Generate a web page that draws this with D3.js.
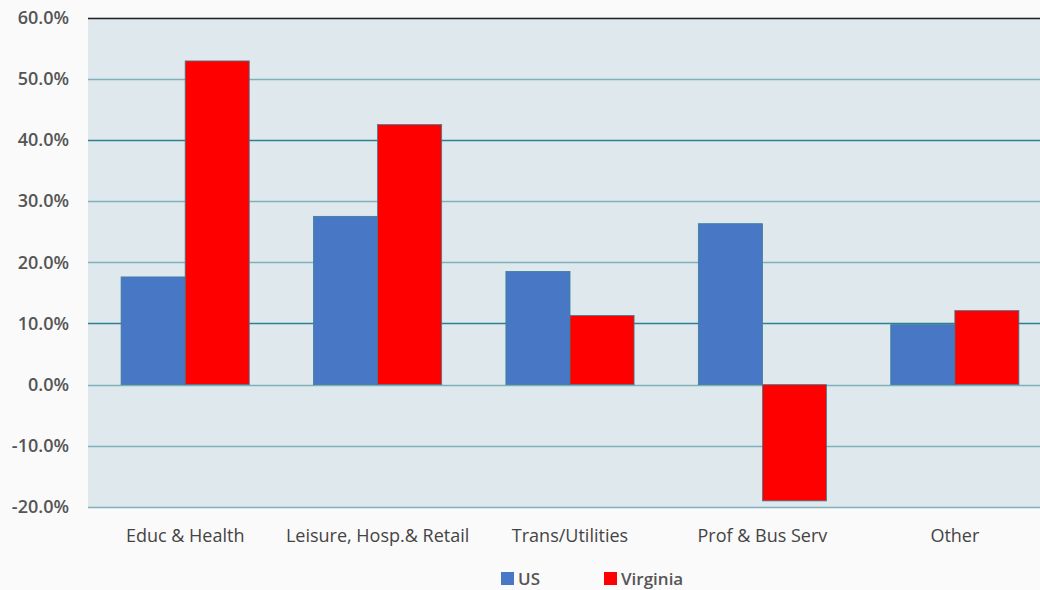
<!DOCTYPE html>
<html><head><meta charset="utf-8">
<script src="https://cdn.jsdelivr.net/npm/d3@7"></script>
<style>
html,body{margin:0;padding:0;background:#fafafa;}
svg{display:block;font-family:"Open Sans","DejaVu Sans",sans-serif;}
</style></head>
<body>
<svg id="chart" width="1040" height="590"></svg>
<script>
const categories = ["Educ & Health", "Leisure, Hosp.& Retail", "Trans/Utilities", "Prof & Bus Serv", "Other"];
const seriesNames = ["US", "Virginia"];
const usValues = [17.6, 27.5, 18.5, 26.3, 9.8];
const virginiaValues = [52.9, 42.5, 11.3, -19.0, 12.1];
const yTicks = [-20, -10, 0, 10, 20, 30, 40, 50, 60];
const colors = {"US": "#4877c6", "Virginia": "#ff0000"};

(function () {
const svg = d3.select("#chart");
const pLeft = 88, pRight = 1040, pTop = 17.5, pBottom = 507;

const x = d3.scaleBand().domain(categories).range([pLeft, 1052]).paddingInner(0.334).paddingOuter(0.172);
const xs = d3.scaleBand().domain(seriesNames).range([0, x.bandwidth()]);
const y = d3.scaleLinear().domain([-20, 60]).range([pBottom, pTop]);

svg.append("rect").attr("x", pLeft).attr("y", pTop).attr("width", pRight - pLeft).attr("height", pBottom - pTop).attr("fill", "#dfe8ec");

// gridlines
svg.append("g").selectAll("line").data(yTicks).join("line")
  .attr("x1", pLeft).attr("x2", pRight)
  .attr("y1", d => Math.round(y(d)) + 0.5).attr("y2", d => Math.round(y(d)) + 0.5)
  .attr("stroke", d => d === 60 ? "#222" : (d === 40 || d === 10 ? "#2f7f95" : "#7fb0bd"))
  .attr("stroke-width", 1.5);

// y axis labels
const yAxis = d3.axisLeft(y).tickValues(yTicks).tickFormat(d => d.toFixed(1) + "%").tickSize(0).tickPadding(0);
const ya = svg.append("g").attr("transform", "translate(69,0)").call(yAxis);
ya.select(".domain").remove();
ya.selectAll("text").attr("font-size", 18).attr("font-weight", 600).attr("fill", "#555").attr("font-family", "\"Open Sans\",sans-serif");

// bars
const data = categories.map((c, i) => ({cat: c, vals: [{s: "US", v: usValues[i]}, {s: "Virginia", v: virginiaValues[i]}]}));
const g = svg.append("g").selectAll("g").data(data).join("g").attr("transform", d => `translate(${x(d.cat)},0)`);
g.selectAll("rect").data(d => d.vals).join("rect")
  .attr("x", d => xs(d.s))
  .attr("width", xs.bandwidth())
  .attr("y", d => y(Math.max(0, d.v)))
  .attr("height", d => Math.abs(y(d.v) - y(0)))
  .attr("fill", d => colors[d.s])
  .attr("stroke", "#3a7f95").attr("stroke-width", 0.8);

// x labels
const xAxis = d3.axisBottom(x).tickSize(0).tickPadding(0);
const xa = svg.append("g").attr("transform", "translate(0,542)").call(xAxis);
xa.select(".domain").remove();
xa.selectAll("text").attr("dy", 0).attr("font-size", 18).attr("fill", "#444").attr("font-family", "\"Open Sans\",sans-serif");

// legend
const legend = svg.append("g");
const legendPos = [{s: "US", x: 501}, {s: "Virginia", x: 604}];
legendPos.forEach(p => {
  legend.append("rect").attr("x", p.x).attr("y", 572).attr("width", 13).attr("height", 13).attr("fill", colors[p.s]);
  legend.append("text").attr("x", p.x + 17).attr("y", 584.5).text(p.s)
    .attr("font-size", 17).attr("font-weight", 600).attr("fill", "#555");
});
})();
</script>
</body></html>
